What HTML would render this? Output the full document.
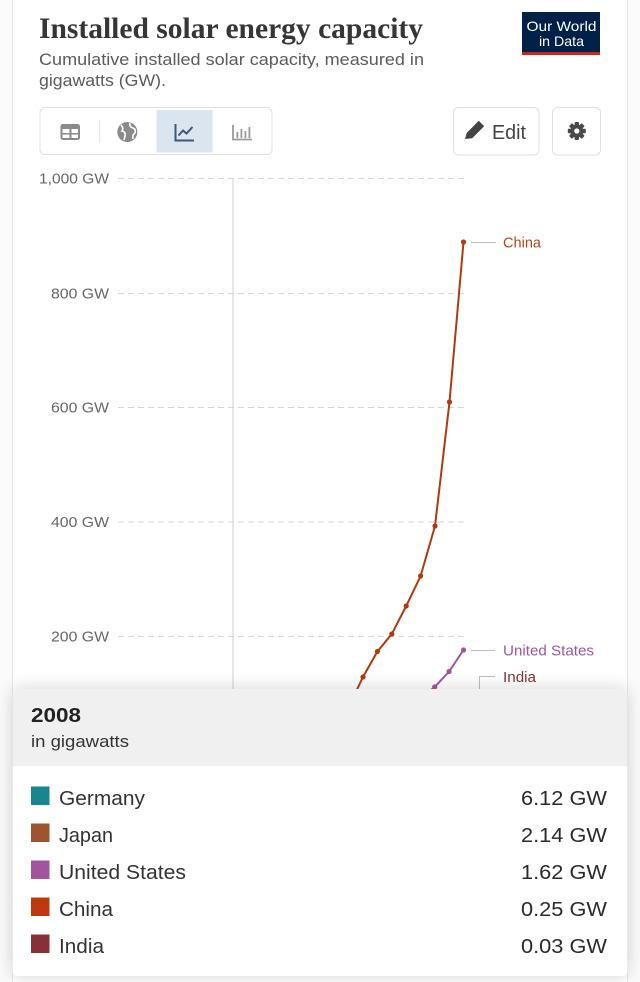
<!DOCTYPE html>
<html><head><meta charset="utf-8"><style>
html,body{margin:0;padding:0;background:#fbfbfb;width:640px;height:982px;overflow:hidden}
svg{display:block}
.s{font-family:"Liberation Sans",sans-serif}
.t{font-family:"Liberation Serif",serif;font-weight:bold}
</style></head><body>
<svg width="640" height="982" viewBox="0 0 640 982" xmlns="http://www.w3.org/2000/svg">
<defs>
<filter id="sh" x="-10%" y="-20%" width="120%" height="140%">
<feGaussianBlur in="SourceAlpha" stdDeviation="9"/>
<feOffset dx="0" dy="0"/>
<feComponentTransfer><feFuncA type="linear" slope="0.18"/></feComponentTransfer>
<feMerge><feMergeNode/><feMergeNode in="SourceGraphic"/></feMerge>
</filter>
</defs>
<!-- card -->
<rect x="12.5" y="-5" width="615" height="1000" fill="#ffffff" stroke="#e6e6e6" stroke-width="1"/>

<!-- title -->
<text class="t" x="39" y="38" font-size="30" fill="#363636" textLength="384" lengthAdjust="spacingAndGlyphs">Installed solar energy capacity</text>
<text class="s" x="39" y="65" font-size="17" fill="#5b5b5b" textLength="385" lengthAdjust="spacingAndGlyphs">Cumulative installed solar capacity, measured in</text>
<text class="s" x="39" y="86" font-size="17" fill="#5b5b5b" textLength="127" lengthAdjust="spacingAndGlyphs">gigawatts (GW).</text>

<!-- logo -->
<rect x="522" y="12" width="78" height="43" fill="#002147"/>
<rect x="522" y="52" width="78" height="3" fill="#ce261e"/>
<text class="s" x="561.5" y="31" font-size="14" fill="#fff" text-anchor="middle" textLength="70" lengthAdjust="spacingAndGlyphs">Our World</text>
<text class="s" x="561.5" y="46" font-size="14" fill="#fff" text-anchor="middle" textLength="45" lengthAdjust="spacingAndGlyphs">in Data</text>

<!-- toolbar -->
<rect x="40" y="107.5" width="232" height="47" rx="5" fill="#fff" stroke="#e0e0e0"/>
<rect x="156.5" y="110" width="56" height="42.5" fill="#dbe5f0"/>
<line x1="99.5" y1="120" x2="99.5" y2="143" stroke="#e6e6e6"/>
<!-- table icon -->
<rect x="60.5" y="124" width="19.5" height="16" rx="2.5" fill="#8a8a8a"/>
<rect x="62.5" y="129" width="7" height="4" fill="#fff"/>
<rect x="71.5" y="129" width="6.5" height="4" fill="#fff"/>
<rect x="62.5" y="134.5" width="7" height="3.5" fill="#fff"/>
<rect x="71.5" y="134.5" width="6.5" height="3.5" fill="#fff"/>
<!-- globe -->
<circle cx="127.3" cy="132" r="10" fill="#8a8a8a"/>
<path d="M121 125 q3 3 1 6 q4 1 3 5 l-1 4" stroke="#fff" stroke-width="1.6" fill="none"/>
<path d="M130 123 q-1 4 3 5 q3 1 2 5 q-3 2 -2 6" stroke="#fff" stroke-width="1.6" fill="none"/>
<!-- line icon -->
<path d="M175.5 124 V140.5 H194" stroke="#3f5678" stroke-width="2" fill="none"/>
<path d="M178.5 135.5 L183 130.5 L186.5 133.5 L192.5 127" stroke="#3f5678" stroke-width="2" fill="none"/>
<!-- bar icon -->
<path d="M233 125 V139.5 H252" stroke="#9a9a9a" stroke-width="1.8" fill="none"/>
<rect x="236.5" y="132" width="1.8" height="6" fill="#9a9a9a"/>
<rect x="240.5" y="129" width="1.8" height="9" fill="#9a9a9a"/>
<rect x="244.5" y="131" width="1.8" height="7" fill="#9a9a9a"/>
<rect x="248.5" y="127" width="1.8" height="11" fill="#9a9a9a"/>

<!-- edit button -->
<rect x="453.5" y="107.5" width="85.5" height="47.5" rx="5" fill="#fff" stroke="#e0e0e0"/>
<polygon points="465,139 466.8,132.8 478.8,120.8 484.2,126.2 472.2,138.2" fill="#444"/>
<text class="s" x="492" y="139" font-size="20" fill="#444" textLength="34" lengthAdjust="spacingAndGlyphs">Edit</text>
<!-- gear button -->
<rect x="552.5" y="107.5" width="48" height="47.5" rx="5" fill="#fff" stroke="#e0e0e0"/>
<g transform="translate(576.8 131)" fill="#4a4a4a">
<rect x="-2.2" y="-9" width="4.4" height="18" rx="1"/>
<rect x="-2.2" y="-9" width="4.4" height="18" rx="1" transform="rotate(45)"/>
<rect x="-2.2" y="-9" width="4.4" height="18" rx="1" transform="rotate(90)"/>
<rect x="-2.2" y="-9" width="4.4" height="18" rx="1" transform="rotate(135)"/>
<circle r="6.5"/>
<circle r="2.6" fill="#fff"/>
</g>

<!-- gridlines -->
<g stroke="#d6d6d6" stroke-width="1" stroke-dasharray="6,4">
<line x1="118" y1="178.5" x2="467" y2="178.5"/>
<line x1="118" y1="293.5" x2="467" y2="293.5"/>
<line x1="118" y1="407.5" x2="467" y2="407.5"/>
<line x1="118" y1="522" x2="467" y2="522"/>
<line x1="118" y1="636.5" x2="467" y2="636.5"/>
</g>
<g class="s" font-size="14.5" fill="#666" text-anchor="end">
<text x="109" y="183.5" textLength="70" lengthAdjust="spacingAndGlyphs">1,000 GW</text>
<text x="109" y="298.5" textLength="58" lengthAdjust="spacingAndGlyphs">800 GW</text>
<text x="109" y="412.5" textLength="58" lengthAdjust="spacingAndGlyphs">600 GW</text>
<text x="109" y="527" textLength="58" lengthAdjust="spacingAndGlyphs">400 GW</text>
<text x="109" y="641.5" textLength="58" lengthAdjust="spacingAndGlyphs">200 GW</text>
</g>
<!-- hover line -->
<line x1="233" y1="178" x2="233" y2="700" stroke="#cfcfcf" stroke-width="1"/>

<!-- China -->
<polyline points="463.5,242 449.5,402 435,526 420.6,576 406.2,606 391.8,634 377.4,651.5 363,677 348.6,707 334,726" fill="none" stroke="#b03a10" stroke-width="2"/>
<g fill="#b03a10">
<circle cx="463.5" cy="242" r="2.6"/><circle cx="449.5" cy="402" r="2.6"/><circle cx="435" cy="526" r="2.6"/>
<circle cx="420.6" cy="576" r="2.6"/><circle cx="406.2" cy="606" r="2.6"/><circle cx="391.8" cy="634" r="2.6"/>
<circle cx="377.4" cy="651.5" r="2.6"/><circle cx="363" cy="677" r="2.6"/>
</g>
<!-- US -->
<polyline points="463.5,650 449.1,671.5 434.7,687 420.3,698" fill="none" stroke="#a2559c" stroke-width="2"/>
<g fill="#a2559c"><circle cx="463.5" cy="650" r="2.6"/><circle cx="449.1" cy="671.5" r="2.6"/><circle cx="434.7" cy="687" r="2.6"/></g>

<!-- labels -->
<g stroke="#bdbdbd" stroke-width="1" fill="none">
<line x1="471" y1="242.5" x2="496" y2="242.5"/>
<line x1="471" y1="650.5" x2="495" y2="650.5"/>
<path d="M479.5 700 V676.5 H495"/>
</g>
<text class="s" x="503" y="247.5" font-size="15" fill="#b0461d" textLength="38" lengthAdjust="spacingAndGlyphs">China</text>
<text class="s" x="503" y="655.5" font-size="15" fill="#a2559c" textLength="91" lengthAdjust="spacingAndGlyphs">United States</text>
<text class="s" x="503" y="682" font-size="15" fill="#883039" textLength="33" lengthAdjust="spacingAndGlyphs">India</text>

<!-- tooltip -->
<g filter="url(#sh)">
<rect x="12.5" y="689" width="615" height="287" rx="5" fill="#fff"/>
</g>
<path d="M12.5 766 V694 a5 5 0 0 1 5 -5 H622.5 a5 5 0 0 1 5 5 V766 Z" fill="#f0f0f0"/>
<text class="s" x="31" y="722" font-size="20" font-weight="bold" fill="#222" textLength="50" lengthAdjust="spacingAndGlyphs">2008</text>
<text class="s" x="31" y="747" font-size="16.5" fill="#333" textLength="98" lengthAdjust="spacingAndGlyphs">in gigawatts</text>

<rect x="31" y="786.5" width="18.5" height="18.5" fill="#18868f"/>
<rect x="31" y="823.5" width="18.5" height="18.5" fill="#9f5430"/>
<rect x="31" y="860.5" width="18.5" height="18.5" fill="#a2559c"/>
<rect x="31" y="897.5" width="18.5" height="18.5" fill="#bd3a0e"/>
<rect x="31" y="934.5" width="18.5" height="18.5" fill="#883039"/>
<g class="s" font-size="20.5" fill="#333">
<text x="59" y="805" textLength="86" lengthAdjust="spacingAndGlyphs">Germany</text>
<text x="59" y="842" textLength="54" lengthAdjust="spacingAndGlyphs">Japan</text>
<text x="59" y="879" textLength="127" lengthAdjust="spacingAndGlyphs">United States</text>
<text x="59" y="916" textLength="54" lengthAdjust="spacingAndGlyphs">China</text>
<text x="59" y="953" textLength="45" lengthAdjust="spacingAndGlyphs">India</text>
</g>
<g class="s" font-size="20.5" fill="#2a2a2a" text-anchor="end">
<text x="607" y="805" textLength="86" lengthAdjust="spacingAndGlyphs">6.12 GW</text>
<text x="607" y="842" textLength="86" lengthAdjust="spacingAndGlyphs">2.14 GW</text>
<text x="607" y="879" textLength="86" lengthAdjust="spacingAndGlyphs">1.62 GW</text>
<text x="607" y="916" textLength="86" lengthAdjust="spacingAndGlyphs">0.25 GW</text>
<text x="607" y="953" textLength="86" lengthAdjust="spacingAndGlyphs">0.03 GW</text>
</g>
</svg>
</body></html>
